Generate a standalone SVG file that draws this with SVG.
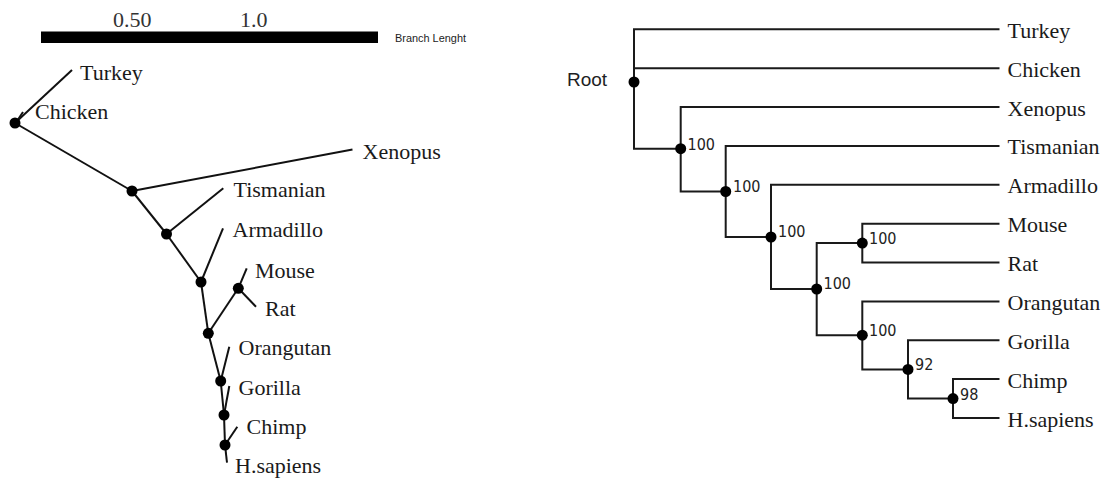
<svg xmlns="http://www.w3.org/2000/svg" width="1105" height="478" viewBox="0 0 1105 478">
<style>
.lbl{font-family:"Liberation Serif","Times New Roman",serif;font-size:22px;fill:#1a1a1a}
.bs{font-family:"DejaVu Sans Condensed","Liberation Sans",Arial,sans-serif;font-size:16px;fill:#222}
.e{stroke:#111;stroke-width:2;fill:none;stroke-linecap:butt}
.r{stroke:#1a1a1a;stroke-width:2;fill:none;stroke-linejoin:miter}
.d{fill:#000}
</style>
<rect width="1105" height="478" fill="#fff"/>
<!-- scale bar -->
<g id="scale">
<rect x="41" y="31.5" width="337" height="11.5" fill="#000"/>
<text class="lbl" x="113" y="27" fill="#333" style="fill:#333">0.50</text>
<text class="lbl" x="240" y="27" style="fill:#333">1.0</text>
<text x="395" y="42" style="font-family:'Liberation Sans',Arial,sans-serif;font-size:10.5px;fill:#222" textLength="71" lengthAdjust="spacingAndGlyphs">Branch Lenght</text>
</g>
<!-- left unrooted tree connectors -->
<g id="connectors-left">
<line class="e" x1="15" y1="123" x2="72" y2="70"/>
<line class="e" x1="23" y1="112" x2="17" y2="121"/>
<line class="e" x1="15" y1="123" x2="132" y2="191"/>
<line class="e" x1="132" y1="191" x2="352.5" y2="149.5"/>
<line class="e" x1="132" y1="191" x2="166.5" y2="234"/>
<line class="e" x1="166.5" y1="234" x2="223.3" y2="188.3"/>
<line class="e" x1="166.5" y1="234" x2="201" y2="282"/>
<line class="e" x1="201" y1="282" x2="223" y2="228.3"/>
<line class="e" x1="201" y1="282" x2="208.3" y2="333.3"/>
<line class="e" x1="208.3" y1="333.3" x2="238.3" y2="288.3"/>
<line class="e" x1="238.3" y1="288.3" x2="246.7" y2="268.3"/>
<line class="e" x1="238.3" y1="288.3" x2="256" y2="306.7"/>
<line class="e" x1="208.3" y1="333.3" x2="220.7" y2="381"/>
<line class="e" x1="220.7" y1="381" x2="229.3" y2="346.7"/>
<line class="e" x1="220.7" y1="381" x2="224" y2="415"/>
<line class="e" x1="224" y1="415" x2="229.3" y2="386"/>
<line class="e" x1="224" y1="415" x2="225" y2="445"/>
<line class="e" x1="225" y1="445" x2="237.3" y2="426.7"/>
<line class="e" x1="225" y1="445" x2="227" y2="462.7"/>
</g>
<g id="left-root"><circle class="d" cx="15" cy="123" r="5.5"/></g>
<g id="left-n1"><circle class="d" cx="132" cy="191" r="5.5"/></g>
<g id="left-n2"><circle class="d" cx="166.5" cy="234" r="5.5"/></g>
<g id="left-n3"><circle class="d" cx="201" cy="282" r="5.5"/></g>
<g id="left-n4"><circle class="d" cx="208.3" cy="333.3" r="5.5"/></g>
<g id="left-nmr"><circle class="d" cx="238.3" cy="288.3" r="5.5"/></g>
<g id="left-n5"><circle class="d" cx="220.7" cy="381" r="5.5"/></g>
<g id="left-n6"><circle class="d" cx="224" cy="415" r="5.5"/></g>
<g id="left-n7"><circle class="d" cx="225" cy="445" r="5.5"/></g>
<g id="left-turkey"><text class="lbl" x="80" y="80">Turkey</text></g>
<g id="left-chicken"><text class="lbl" x="35" y="119">Chicken</text></g>
<g id="left-xenopus"><text class="lbl" x="362.5" y="158.5">Xenopus</text></g>
<g id="left-tasmanian"><text class="lbl" x="233.5" y="197">Tismanian</text></g>
<g id="left-armadillo"><text class="lbl" x="232.5" y="237">Armadillo</text></g>
<g id="left-mouse"><text class="lbl" x="255" y="277.5">Mouse</text></g>
<g id="left-rat"><text class="lbl" x="265" y="316">Rat</text></g>
<g id="left-orangutan"><text class="lbl" x="238.5" y="355">Orangutan</text></g>
<g id="left-gorilla"><text class="lbl" x="238.5" y="395">Gorilla</text></g>
<g id="left-chimp"><text class="lbl" x="246.5" y="433.5">Chimp</text></g>
<g id="left-hsapiens"><text class="lbl" x="235" y="473">H.sapiens</text></g>
<!-- right rooted tree connectors -->
<g id="connectors-right">
<path class="r" d="M999.5 29.3H634V148.7H680.7"/>
<path class="r" d="M634 68.2H999.5"/>
<path class="r" d="M999.5 107H680.7V191.5H725.7"/>
<path class="r" d="M999.5 145.9H725.7V237H771"/>
<path class="r" d="M999.5 184.8H771V289H816.7"/>
<path class="r" d="M862.3 243.1H816.7V335.2H862.3"/>
<path class="r" d="M999.5 223.7H862.3V262.5H999.5"/>
<path class="r" d="M999.5 301.4H862.3V369.4H908"/>
<path class="r" d="M999.5 340.3H908V398.6H953"/>
<path class="r" d="M999.5 379.1H953V418H999.5"/>
</g>
<g id="root"><circle class="d" cx="634" cy="82" r="5.5"/><text x="567" y="86" style="font-family:'Liberation Sans',Arial,sans-serif;font-size:19px;fill:#1e1e24">Root</text></g>
<g id="nA"><circle class="d" cx="680.7" cy="148.7" r="5.5"/><text class="bs" x="687.5" y="149.5">100</text></g>
<g id="nB"><circle class="d" cx="725.7" cy="191.5" r="5.5"/><text class="bs" x="733" y="192">100</text></g>
<g id="nC"><circle class="d" cx="771" cy="237" r="5.5"/><text class="bs" x="778" y="237">100</text></g>
<g id="nD"><circle class="d" cx="816.7" cy="289" r="5.5"/><text class="bs" x="823.5" y="289">100</text></g>
<g id="nE"><circle class="d" cx="862.3" cy="243.1" r="5.5"/><text class="bs" x="869" y="243.5">100</text></g>
<g id="nF"><circle class="d" cx="862.3" cy="335.2" r="5.5"/><text class="bs" x="869" y="336">100</text></g>
<g id="nG"><circle class="d" cx="908" cy="369.4" r="5.5"/><text class="bs" x="915" y="370">92</text></g>
<g id="nH"><circle class="d" cx="953" cy="398.6" r="5.5"/><text class="bs" x="960" y="400">98</text></g>
<g id="r-turkey"><text class="lbl" x="1007.5" y="37.8">Turkey</text></g>
<g id="r-chicken"><text class="lbl" x="1007.5" y="76.7">Chicken</text></g>
<g id="r-xenopus"><text class="lbl" x="1007.5" y="115.5">Xenopus</text></g>
<g id="r-tasmanian"><text class="lbl" x="1007.5" y="154.4">Tismanian</text></g>
<g id="r-armadillo"><text class="lbl" x="1007.5" y="193.3">Armadillo</text></g>
<g id="r-mouse"><text class="lbl" x="1007.5" y="232.2">Mouse</text></g>
<g id="r-rat"><text class="lbl" x="1007.5" y="271">Rat</text></g>
<g id="r-orangutan"><text class="lbl" x="1007.5" y="309.9">Orangutan</text></g>
<g id="r-gorilla"><text class="lbl" x="1007.5" y="348.8">Gorilla</text></g>
<g id="r-chimp"><text class="lbl" x="1007.5" y="387.6">Chimp</text></g>
<g id="r-hsapiens"><text class="lbl" x="1007.5" y="426.5">H.sapiens</text></g>
</svg>
